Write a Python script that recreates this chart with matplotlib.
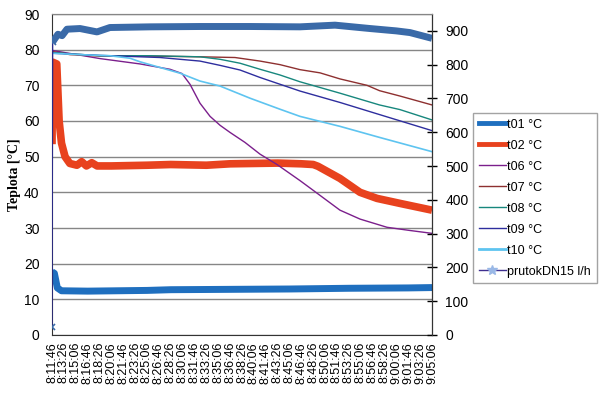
import matplotlib
matplotlib.use("Agg")
import matplotlib.pyplot as plt
from matplotlib.lines import Line2D
import pandas as pd

plt.rcParams['font.family'] = ['Liberation Sans', 'DejaVu Sans']

# time axis: seconds after 8:11:46, ticks every 100 s
start = pd.Timestamp('2024-01-01 08:11:46')
tick_secs = list(range(0, 3201, 100))
tick_labels = [(start + pd.Timedelta(seconds=s)).strftime('%H:%M:%S').lstrip('0') for s in tick_secs]

# t01 (left axis)
t01_t = [0, 20, 45, 80, 300, 800, 1000, 1500, 2000, 2500, 3000, 3200]
t01_v = [17.7, 17.3, 13.2, 12.4, 12.3, 12.5, 12.7, 12.8, 12.9, 13.1, 13.2, 13.3]

# t02
t02_t = [0, 5, 40, 60, 80, 110, 150, 210, 250, 290, 335, 380, 500, 800, 1000, 1300,
         1500, 1700, 1900, 2100, 2200, 2240, 2425, 2594, 2737, 2930, 3200]
t02_v = [53.5, 76.5, 76.0, 60.0, 53.8, 50.0, 48.1, 47.6, 48.6, 47.4, 48.3, 47.4, 47.4, 47.6,
         47.8, 47.6, 48.0, 48.1, 48.2, 48.0, 47.8, 47.3, 43.9, 40.0, 38.3, 36.9, 35.0]

# t06
t06_t = [0, 404, 741, 994, 1095, 1162, 1246, 1331, 1415, 1499, 1625, 1752, 1895, 2088,
         2198, 2425, 2594, 2821, 3015, 3200]
t06_v = [79.8, 77.5, 76.0, 74.5, 73.3, 70.3, 65.0, 61.3, 58.8, 56.8, 54.0, 50.7, 47.8, 43.3,
         40.6, 35.0, 32.5, 30.2, 29.3, 28.5]

# t07
t07_t = [0, 152, 404, 825, 1246, 1541, 1752, 1920, 2088, 2257, 2425, 2653, 2758, 2930, 3200]
t07_v = [79.5, 78.6, 78.2, 78.2, 78.0, 77.8, 76.8, 75.8, 74.4, 73.5, 71.8, 70.0, 68.5, 67.0, 64.5]

# t08
t08_t = [0, 404, 825, 1246, 1415, 1583, 1752, 1920, 2088, 2425, 2758, 2930, 3200]
t08_v = [79.2, 78.3, 78.3, 78.0, 77.3, 76.2, 74.5, 72.9, 71.0, 67.8, 64.5, 63.2, 60.3]

# t09
t09_t = [0, 404, 910, 1246, 1415, 1583, 1752, 1920, 2088, 2425, 2758, 3200]
t09_v = [79.0, 78.4, 77.8, 76.8, 75.6, 74.3, 72.2, 70.3, 68.4, 65.2, 61.8, 57.3]

# t10
t10_t = [0, 236, 488, 657, 741, 910, 1078, 1246, 1415, 1667, 1920, 2088, 2425, 2758, 3200]
t10_v = [79.0, 78.6, 78.3, 77.6, 76.6, 75.0, 73.4, 71.2, 69.8, 66.4, 63.3, 61.3, 58.5, 55.4, 51.4]

# prutokDN15 l/h (right axis)
flow_t = [0, 5, 50, 85, 126, 236, 379, 488, 825, 1246, 1667, 2088, 2383, 2678, 2900, 3015, 3200]
flow_v = [25, 867, 890, 886, 905, 907, 897, 910, 912, 913, 913, 912, 917, 907, 900, 895, 878]

fig = plt.figure(figsize=(6, 3.95), dpi=100)
ax = fig.add_axes([52/600, 60/395, 380/600, 321/395])
ax2 = ax.twinx()

c_t01 = '#1f6fbf'
c_t02 = '#e8421e'
c_t06 = '#7b1f8c'
c_t07 = '#8e3030'
c_t08 = '#17877d'
c_t09 = '#2e2e9e'
c_t10 = '#5ec4f0'
c_flow = '#3a6aa8'

ax.plot(t01_t, t01_v, color=c_t01, lw=5, solid_capstyle='butt')
ax.plot(t02_t, t02_v, color=c_t02, lw=5.5, solid_capstyle='butt')
ax.plot(t06_t, t06_v, color=c_t06, lw=1)
ax.plot(t07_t, t07_v, color=c_t07, lw=1)
ax.plot(t08_t, t08_v, color=c_t08, lw=1)
ax.plot(t09_t, t09_v, color=c_t09, lw=1)
ax.plot(t10_t, t10_v, color=c_t10, lw=1.2)

ax2.plot(flow_t[:2], flow_v[:2], color='#2b2b8a', lw=1)
ax2.plot(flow_t[1:], flow_v[1:], color=c_flow, lw=5, solid_capstyle='butt')
ax2.plot(flow_t[:2], flow_v[:2], ls='none', marker='x', ms=5, mew=1.2, color=c_flow)

ax.set_xlim(0, 3200)
ax.set_ylim(0, 90)
ax2.set_ylim(0, 950)
ax.set_yticks(range(0, 91, 10))
ax2.set_yticks(range(0, 901, 100))
ax.set_xticks(tick_secs)
ax.set_xticklabels(tick_labels, rotation=90, fontsize=9)
ax.tick_params(axis='x', length=0, pad=5)
ax.tick_params(axis='y', length=0, pad=9, labelsize=10)
ax2.tick_params(axis='y', direction='inout', length=7, width=1, pad=6, labelsize=10)

ax.grid(axis='y', color='#868686', lw=1)
ax.set_axisbelow(True)
for sp in ['left', 'bottom']:
    ax.spines[sp].set_color('#333333')
ax.spines['top'].set_color('#868686')
ax2.spines['right'].set_color('#333333')
ax2.spines['top'].set_color('#868686')
ax2.spines['left'].set_visible(False)
ax2.spines['bottom'].set_visible(False)

ax.set_ylabel('Teplota [°C]', family=['Liberation Serif', 'DejaVu Serif'],
              fontweight='bold', fontsize=10, labelpad=2)

handles = [
    Line2D([], [], color=c_t01, lw=3.5),
    Line2D([], [], color=c_t02, lw=3.5),
    Line2D([], [], color=c_t06, lw=1),
    Line2D([], [], color=c_t07, lw=1),
    Line2D([], [], color=c_t08, lw=1),
    Line2D([], [], color=c_t09, lw=1),
    Line2D([], [], color=c_t10, lw=2),
    Line2D([], [], color='#3f2f8f', lw=1, marker='*', ms=7, mfc='#9ab8e6', mec='#9ab8e6'),
]
labels = ['t01 °C', 't02 °C', 't06 °C', 't07 °C', 't08 °C', 't09 °C', 't10 °C', 'prutokDN15 l/h']
leg = fig.legend(handles, labels, loc='upper left', bbox_to_anchor=(473/600, 1 - 113/395),
                 fontsize=9, frameon=True, fancybox=False, edgecolor='#8c8c8c',
                 handlelength=2.2, handletextpad=0.1, labelspacing=0.72, borderpad=0.45,
                 borderaxespad=0)
leg.get_frame().set_linewidth(1)

fig.savefig('out.png', dpi=100)
